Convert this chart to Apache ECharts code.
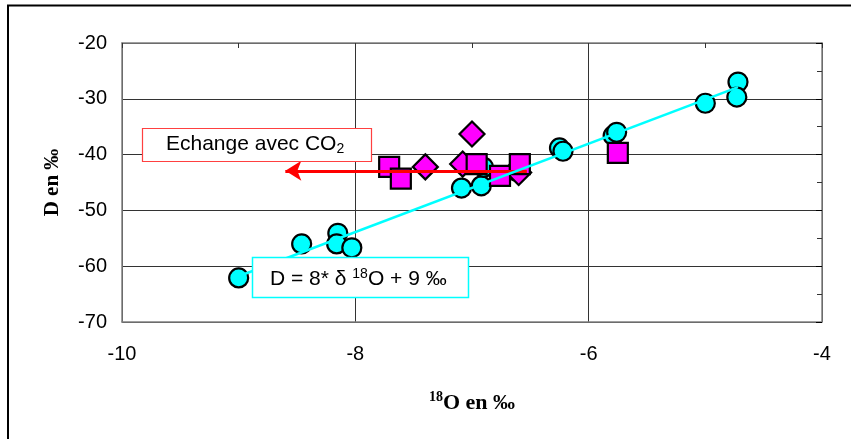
<!DOCTYPE html>
<html>
<head>
<meta charset="utf-8">
<script src="https://cdn.jsdelivr.net/npm/echarts@6/dist/echarts.min.js"></script>
<style>
  html, body { margin: 0; padding: 0; background: #fff; }
  #chart { width: 851px; height: 439px; }
</style>
</head>
<body>
<div id="chart"></div>
<script>
const eauxCercles = [
  [-9.0, -62.1], [-8.46, -56.0], [-8.15, -54.1], [-8.16, -56.0], [-8.03, -56.7],
  [-7.09, -46.0], [-6.92, -45.6], [-6.9, -42.3], [-6.62, -43.0],
  [-6.25, -38.8], [-6.22, -39.4], [-5.79, -36.6], [-5.76, -36.0],
  [-5.0, -30.8], [-4.72, -27.0], [-4.73, -29.7]
];
const eauxLosanges = [[-7.0, -36.3], [-7.40, -42.2], [-7.08, -41.7], [-6.6, -43.2]];
const eauxCarres = [[-7.71, -42.2], [-7.61, -44.3], [-6.96, -41.7], [-6.76, -43.8], [-6.59, -41.7], [-5.75, -39.7]];
// droite météorique
const droite = [[-9.0, -61.8], [-4.72, -27.9]];
// flèche échange avec CO2
const fleche = [[-6.53, -42.9], [-8.6, -42.9]];
const xTicks = { min: -10, max: -4, interval: 2 };
const yTicks = { min: -70, max: -20, interval: 10 };

let myChart = echarts.init(document.getElementById('chart'));

const tickFont = { fontFamily: 'Arial, "Liberation Sans"', fontSize: 20, color: '#000' };
const serif = '"Liberation Serif", "Times New Roman"';

let option = {
  animation: false,
  grid: { left: 122, top: 43, width: 700, height: 279 },
  xAxis: [
    {
      type: 'value', min: xTicks.min, max: xTicks.max, interval: xTicks.interval,
      axisLine: { lineStyle: { color: '#808080', width: 1.5 } },
      axisTick: { show: false },
      axisLabel: Object.assign({ margin: 22 }, tickFont),
      splitLine: { lineStyle: { color: '#333', width: 1 } },
      name: '{sup|18}{b|O en ‰}',
      nameLocation: 'middle',
      nameGap: 68,
      nameTextStyle: {
        rich: {
          sup: { fontFamily: serif, fontWeight: 'bold', fontSize: 14, color: '#000', padding: [0, 0, 12, 0] },
          b: { fontFamily: serif, fontWeight: 'bold', fontSize: 22, color: '#000' }
        }
      }
    },
    {
      type: 'value', position: 'top', min: xTicks.min, max: xTicks.max, interval: 1,
      axisLine: { onZero: false, lineStyle: { color: '#808080', width: 1.5 } },
      axisTick: { show: true, inside: true, length: 5, lineStyle: { color: '#333' } },
      axisLabel: { show: false },
      splitLine: { show: false }
    }
  ],
  yAxis: [
    {
      type: 'value', min: yTicks.min, max: yTicks.max, interval: yTicks.interval,
      axisLine: { show: true, lineStyle: { color: '#808080', width: 1.5 } },
      axisTick: { show: false },
      axisLabel: Object.assign({ margin: 15 }, tickFont),
      splitLine: { lineStyle: { color: '#333', width: 1 } },
      name: 'D en ‰',
      nameLocation: 'middle',
      nameGap: 59,
      nameTextStyle: { fontFamily: serif, fontWeight: 'bold', fontSize: 21, color: '#000' }
    },
    {
      type: 'value', position: 'right', min: yTicks.min, max: yTicks.max, interval: yTicks.interval,
      axisLine: { show: true, onZero: false, lineStyle: { color: '#808080', width: 1.5 } },
      axisTick: { show: true, inside: true, length: 6, lineStyle: { color: '#000' } },
      minorTick: { show: true, splitNumber: 2, length: 5, lineStyle: { color: '#333' } },
      axisLabel: { show: false },
      splitLine: { show: false }
    }
  ],
  series: [
    {
      type: 'scatter', data: eauxCercles, symbol: 'circle', symbolSize: 19, z: 2,
      itemStyle: { color: '#00FFFF', borderColor: '#000', borderWidth: 2.2, opacity: 1 }
    },
    {
      type: 'scatter', data: eauxLosanges, symbol: 'diamond', symbolSize: 25, z: 3,
      itemStyle: { color: '#FF00FF', borderColor: '#000', borderWidth: 2.2, opacity: 1 }
    },
    {
      type: 'scatter', data: eauxCarres, symbol: 'rect', symbolSize: 20, z: 4,
      itemStyle: { color: '#FF00FF', borderColor: '#000', borderWidth: 2.2, opacity: 1 }
    },
    {
      type: 'line', data: droite, showSymbol: false, symbol: 'none', z: 5,
      lineStyle: { color: '#00FFFF', width: 2.5 }
    },
    {
      type: 'line', data: [], z: 6,
      markLine: {
        silent: true, symbol: ['none', 'arrow'], symbolSize: [15, 16],
        label: { show: false },
        lineStyle: { color: '#FF0000', width: 3, type: 'solid' },
        data: [[{ coord: fleche[0] }, { coord: fleche[1] }]]
      }
    }
  ],
  graphic: [
    {
      type: 'polyline', z: 100,
      shape: { points: [[8, 440], [8, 5.5], [860, 5.5]] },
      style: { stroke: '#000', lineWidth: 2, fill: null }
    },
    {
      type: 'rect', z: 100,
      shape: { x: 142.5, y: 128.5, width: 229, height: 33 },
      style: { fill: '#fff', stroke: '#FF4040', lineWidth: 1.2 }
    },
    {
      type: 'text', z: 101, left: 166, top: 134,
      style: {
        text: '{t|Echange avec CO}{s|2}',
        rich: {
          t: { fontFamily: 'Arial, "Liberation Sans"', fontSize: 21, fill: '#000' },
          s: { fontFamily: 'Arial, "Liberation Sans"', fontSize: 14, fill: '#000', padding: [10, 0, 0, 0] }
        }
      }
    },
    {
      type: 'rect', z: 100,
      shape: { x: 252.5, y: 257.5, width: 216, height: 40 },
      style: { fill: '#fff', stroke: '#00FFFF', lineWidth: 1.5 }
    },
    {
      type: 'text', z: 101, left: 270, top: 267,
      style: {
        text: '{t|D = 8* δ }{s|18}{t|O + 9 ‰}',
        rich: {
          t: { fontFamily: 'Arial, "Liberation Sans"', fontSize: 21, fill: '#000' },
          s: { fontFamily: 'Arial, "Liberation Sans"', fontSize: 14, fill: '#000', padding: [0, 0, 10, 0] }
        }
      }
    }
  ]
};

myChart.setOption(option);
</script>
</body>
</html>
